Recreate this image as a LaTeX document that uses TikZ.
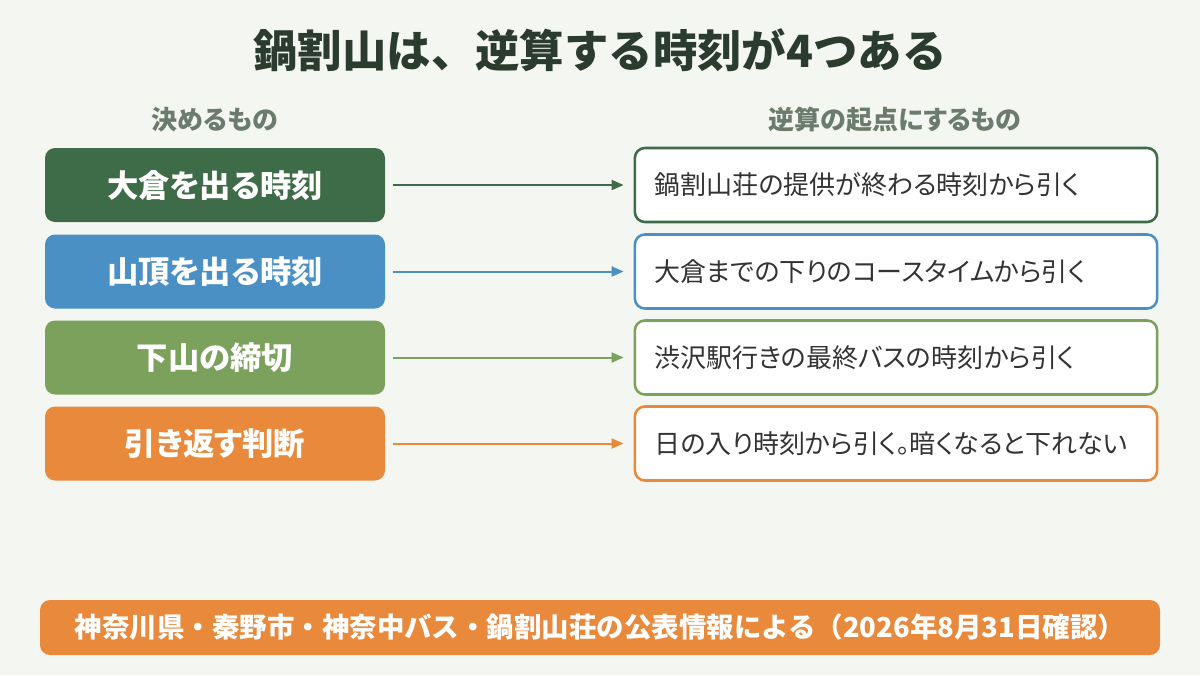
\documentclass[tikz,border=0pt]{standalone}
\usepackage{fontspec}
\newfontfamily\jpfont{Noto Sans CJK JP}[RawFeature=+palt]
\newfontfamily\jpwide{Noto Sans CJK JP}
\usetikzlibrary{arrows.meta}
\definecolor{bgPaper}{HTML}{F4F6F1}
\definecolor{titleInk}{HTML}{2B3C2F}
\definecolor{headInk}{HTML}{6B7B6C}
\definecolor{bodyInk}{HTML}{333333}
\definecolor{kGreen}{HTML}{3E6B48}
\definecolor{kBlue}{HTML}{4A90C4}
\definecolor{kLeaf}{HTML}{7BA15C}
\definecolor{kOrange}{HTML}{E8893C}
\begin{document}
\begin{tikzpicture}[
    x=0.75pt,y=-0.75pt,
    keepBox/.style={rectangle,rounded corners=7.5pt,minimum width=255pt,minimum height=55.5pt,inner sep=0pt,font=\jpfont\bfseries\fontsize{23.5}{27}\selectfont,text=white},
    calcBox/.style={rectangle,rounded corners=7.5pt,fill=white,line width=1.9pt,minimum height=55.5pt,text width=362pt,inner xsep=14.85pt,inner ysep=0pt,align=left,font=\jpfont\fontsize{19.5}{23}\selectfont,text=bodyInk},
    calcArrow/.style={-{Triangle[length=9pt,width=7.5pt]},line width=1.5pt,shorten <=6pt,shorten >=7.5pt},
    headLabel/.style={font=\jpfont\bfseries\fontsize{19.5}{23}\selectfont,text=headInk},
]
\fill[bgPaper] (0,0) rectangle (1200,675);
\useasboundingbox (0,0) rectangle (1200,675);
% === title ===
\node[font=\jpwide\bfseries\fontsize{33.3}{38}\selectfont,text=titleInk] (TITLE) at (600,50) {鍋割山は、逆算する時刻が4つある};
\node[headLabel] (HL) at (215,120) {決めるもの};
\node[headLabel] (HR) at (895,120) {逆算の起点にするもの};
% === left column ===
\node[keepBox,fill=kGreen] (K1) at (215,185) {大倉を出る時刻};
\node[keepBox,fill=kBlue] (K2) at (215,271.5) {山頂を出る時刻};
\node[keepBox,fill=kLeaf] (K3) at (215,357.5) {下山の締切};
\node[keepBox,fill=kOrange] (K4) at (215,443.5) {引き返す判断};
% === right column ===
\node[calcBox,draw=kGreen] (C1) at (896,185) {鍋割山荘の提供が終わる時刻から引く};
\node[calcBox,draw=kBlue] (C2) at (896,271.5) {大倉までの下りのコースタイムから引く};
\node[calcBox,draw=kLeaf] (C3) at (896,357.5) {渋沢駅行きの最終バスの時刻から引く};
\node[calcBox,draw=kOrange] (C4) at (896,443.5) {日の入り時刻から引く。暗くなると下れない};
\draw[calcArrow,kGreen] (K1) -- (C1);
\draw[calcArrow,kBlue] (K2) -- (C2);
\draw[calcArrow,kLeaf] (K3) -- (C3);
\draw[calcArrow,kOrange] (K4) -- (C4);
% === source ===
\node[rectangle,rounded corners=7.5pt,fill=kOrange,minimum width=840pt,minimum height=41.25pt,inner sep=0pt,font=\jpwide\bfseries\fontsize{20.6}{24}\selectfont,text=white] (SRC) at (600,627.5) {神奈川県・秦野市・神奈中バス・鍋割山荘の公表情報による（2026年8月31日確認）};
\end{tikzpicture}
\end{document}
